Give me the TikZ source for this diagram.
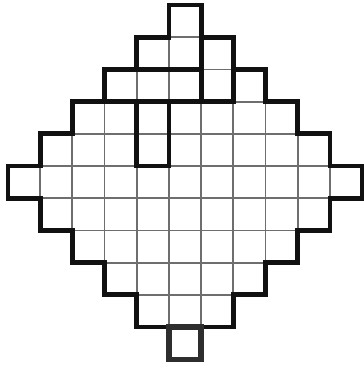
\documentclass[tikz,border=0pt]{standalone}
\definecolor{gridgray}{HTML}{6E6E6E}
\definecolor{ink}{HTML}{111111}
\definecolor{boxink}{HTML}{2E2E2E}
\begin{document}
\begin{tikzpicture}[x=16.1pt,y=-16.1pt,
  gridline/.style={draw=gridgray,line width=0.9pt},
  thickline/.style={draw=ink,line width=2.4pt,line cap=rect,line join=miter},
  boxline/.style={draw=boxink,line width=2.7pt,line join=miter}]
\useasboundingbox (-0.2484,-0.1553) rectangle (11.0559,11.3665);
% thin grid cells
\foreach \r in {0,...,10}{
  \pgfmathtruncatemacro\d{abs(5-\r)}
  \pgfmathtruncatemacro\e{10-\d}
  \foreach \c in {\d,...,\e}{
    \draw[gridline] (\c,\r) rectangle ++(1,1);
  }
}
% outer staircase boundary
\draw[thickline] (5,0) -- (6,0) -- (6,1) -- (7,1) -- (7,2) -- (8,2) -- (8,3) -- (9,3) -- (9,4) -- (10,4) -- (10,5) -- (11,5) -- (11,6) -- (10,6) -- (10,7) -- (9,7) -- (9,8) -- (8,8) -- (8,9) -- (7,9) -- (7,10) -- (6,10) -- (5,10) -- (4,10) -- (4,9) -- (3,9) -- (3,8) -- (2,8) -- (2,7) -- (1,7) -- (1,6) -- (0,6) -- (0,5) -- (1,5) -- (1,4) -- (2,4) -- (2,3) -- (3,3) -- (3,2) -- (4,2) -- (4,1) -- (5,1) -- cycle;
% interior thick lines
\draw[thickline] (4,2) -- (6,2);
\draw[thickline] (3,3) -- (7,3);
\draw[thickline] (6,1) -- (6,3);
\draw[thickline] (7,2) -- (7,3);
\draw[thickline] (4,3) -- (4,5) -- (5,5) -- (5,3);
% bottom cell
\draw[boxline] (5,10) rectangle (6,11);
\end{tikzpicture}
\end{document}
